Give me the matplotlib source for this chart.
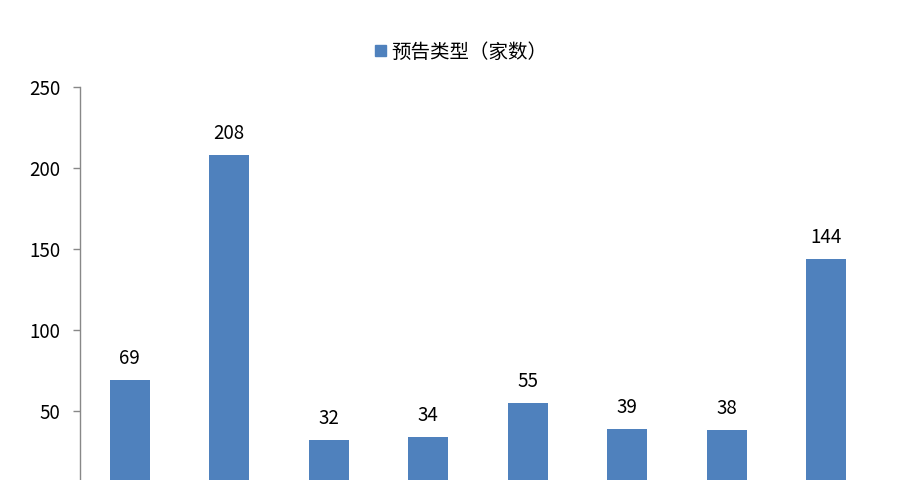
import matplotlib
matplotlib.use("Agg")
import matplotlib.pyplot as plt
from matplotlib.patches import Patch

plt.rcParams['font.family'] = ['Noto Sans CJK SC', 'DejaVu Sans']

categories = ["A", "B", "C", "D", "E", "F", "G", "H"]
values = [69, 208, 32, 34, 55, 39, 38, 144]
series_name = "预告类型（家数）"
yticks = [50, 100, 150, 200, 250]

bar_color = "#4F81BD"

fig = plt.figure(figsize=(9.04, 4.8), dpi=100)
ax = fig.add_axes([80 / 904, 0, 796 / 904, 393 / 480])

x = range(len(categories))
bars = ax.bar(x, values, width=0.4, color=bar_color)

for xi, v in zip(x, values):
    ax.annotate(str(v), (xi, v), xytext=(0, 8), textcoords="offset points",
                ha="center", va="bottom", fontsize=13.5, color="black")

ax.set_xlim(-0.5, len(categories) - 0.5)
ax.set_ylim(7.4, 250)
ax.set_yticks(yticks)
ax.set_yticklabels([str(t) for t in yticks], fontsize=13.5)
ax.set_xticks([])

for s in ["top", "right", "bottom"]:
    ax.spines[s].set_visible(False)
ax.spines["left"].set_color("#888888")
ax.spines["left"].set_linewidth(1)
ax.tick_params(axis="y", length=5, width=1, color="#888888", pad=9)

handle = Patch(facecolor=bar_color, edgecolor=bar_color)
fig.legend([handle], [series_name], loc="center left",
           bbox_to_anchor=(375 / 904, 1 - 52 / 480), frameon=False,
           fontsize=14, handlelength=0.55, handleheight=0.55, handletextpad=0.3,
           borderpad=0, borderaxespad=0)

fig.savefig("out.png", dpi=100)
